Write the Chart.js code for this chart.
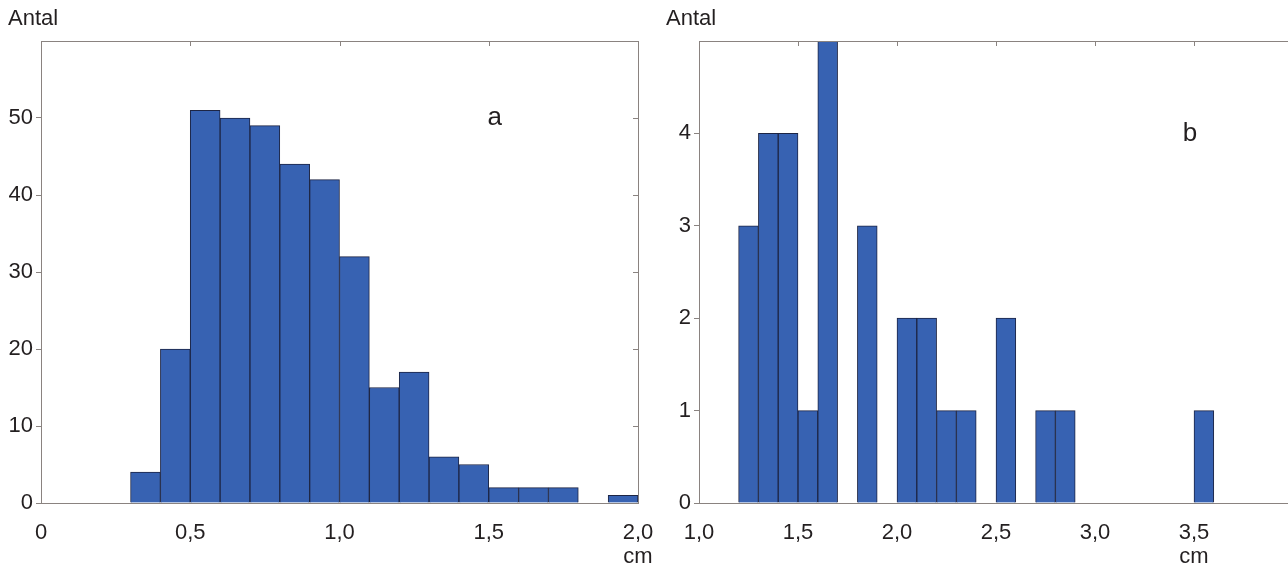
<!DOCTYPE html>
<html lang="sv">
<head>
    <meta charset="UTF-8">
    <title>Antal - histogram a och b</title>
    <script src="https://cdn.jsdelivr.net/npm/chart.js"></script>
    <style>
        html, body { margin: 0; padding: 0; background: #fff; overflow: hidden; }
        #wrap { position: relative; width: 1288px; height: 563px; overflow: hidden; }
        .box { position: absolute; top: 0; height: 563px; }
        #boxA { left: 0; width: 655px; }
        #boxB { left: 655px; width: 645px; }
    </style>
</head>
<body>
<div id="wrap">
    <div class="box" id="boxA"><canvas id="chartA"></canvas></div>
    <div class="box" id="boxB"><canvas id="chartB"></canvas></div>
</div>

<script>
    // panel a: bins of 0,1 cm, start value of each bin
    const binsA = [0.3, 0.4, 0.5, 0.6, 0.7, 0.8, 0.9, 1.0, 1.1, 1.2, 1.3, 1.4, 1.5, 1.6, 1.7, 1.8, 1.9];
    const countsA = [4, 20, 51, 50, 49, 44, 42, 32, 15, 17, 6, 5, 2, 2, 2, 0, 1];
    const xTicksA = [0, 0.5, 1.0, 1.5, 2.0];
    const xLabelsA = ['0', '0,5', '1,0', '1,5', ['2,0', 'cm']];
    const yTicksA = [0, 10, 20, 30, 40, 50];

    // panel b
    const binsB = [1.2, 1.3, 1.4, 1.5, 1.6, 1.7, 1.8, 1.9, 2.0, 2.1, 2.2, 2.3, 2.4, 2.5, 2.6, 2.7, 2.8, 3.5];
    const countsB = [3, 4, 4, 1, 5, 0, 3, 0, 2, 2, 1, 1, 0, 2, 0, 1, 1, 1];
    const xTicksB = [1.0, 1.5, 2.0, 2.5, 3.0, 3.5];
    const xLabelsB = ['1,0', '1,5', '2,0', '2,5', '3,0', ['3,5', 'cm']];
    const yTicksB = [0, 1, 2, 3, 4];

    const FONT = '"Liberation Sans", Arial, Helvetica, sans-serif';
    const TEXT = '#231f20';
    const FRAME = '#8a8380';

    // frame, inward ticks top/right, "Antal" and panel letter
    const framePlugin = {
        id: 'frame',
        afterDraw(chart, args, opts) {
            const ctx = chart.ctx;
            const a = chart.chartArea;
            const xs = chart.scales.x, ys = chart.scales.y;
            ctx.save();
            ctx.strokeStyle = FRAME;
            ctx.lineWidth = 1;
            ctx.strokeRect(Math.round(a.left) + 0.5, Math.round(a.top) + 0.5,
                Math.round(a.right - a.left), Math.round(a.bottom - a.top));
            ctx.beginPath();
            opts.topTicks.forEach(v => {
                const px = Math.round(xs.getPixelForValue(v)) + 0.5;
                ctx.moveTo(px, a.top);
                ctx.lineTo(px, a.top + 5);
            });
            opts.rightTicks.forEach(v => {
                const py = Math.round(ys.getPixelForValue(v)) + 0.5;
                ctx.moveTo(a.right, py);
                ctx.lineTo(a.right - 5, py);
            });
            ctx.stroke();

            ctx.fillStyle = TEXT;
            ctx.font = '22px ' + FONT;
            ctx.textAlign = 'left';
            ctx.textBaseline = 'middle';
            ctx.fillText('Antal', a.left - 33, 19);

            ctx.font = '26px ' + FONT;
            ctx.textAlign = 'center';
            ctx.fillText(opts.letter, xs.getPixelForValue(opts.letterAt[0]), ys.getPixelForValue(opts.letterAt[1]));
            ctx.restore();
        }
    };

    function makeData(bins, counts) {
        const pts = [];
        bins.forEach((b, i) => {
            if (counts[i] > 0) pts.push({ x: b + 0.05, y: counts[i] });
        });
        return pts;
    }

    function renderChart(id, cfg) {
        const ctx = document.getElementById(id).getContext('2d');
        return new Chart(ctx, {
            type: 'bar',
            data: {
                datasets: [{
                    data: makeData(cfg.bins, cfg.counts),
                    backgroundColor: '#3762b2',
                    borderColor: '#1d2544',
                    borderWidth: 1,
                    borderSkipped: 'start',
                    barPercentage: 1.0,
                    categoryPercentage: 1.0
                }]
            },
            plugins: [framePlugin],
            options: {
                responsive: true,
                maintainAspectRatio: false,
                animation: false,
                events: [],
                layout: { padding: { top: 41, right: cfg.padRight, left: 0, bottom: 0 } },
                plugins: {
                    legend: { display: false },
                    tooltip: { enabled: false },
                    frame: {
                        letter: cfg.letter,
                        letterAt: cfg.letterAt,
                        topTicks: cfg.xTicks.slice(1),
                        rightTicks: cfg.yTicks.slice(1)
                    }
                },
                scales: {
                    x: {
                        type: 'linear',
                        min: cfg.xMin,
                        max: cfg.xMax,
                        offset: false,
                        grid: { display: false },
                        border: { display: false },
                        afterBuildTicks: s => { s.ticks = cfg.xTicks.map(v => ({ value: v })); },
                        afterFit: s => { s.height = 60; s.paddingLeft = 0; s.paddingRight = 0; },
                        ticks: {
                            maxRotation: 0,
                            autoSkip: false,
                            padding: 10,
                            color: TEXT,
                            font: { family: FONT, size: 22, lineHeight: 1.08 },
                            callback: v => {
                                const i = cfg.xTicks.findIndex(t => Math.abs(t - v) < 1e-6);
                                return i >= 0 ? cfg.xLabels[i] : '';
                            }
                        }
                    },
                    y: {
                        min: 0,
                        max: cfg.yMax,
                        grid: { drawOnChartArea: false, drawTicks: true, tickLength: 5, color: FRAME },
                        border: { display: false },
                        afterBuildTicks: s => { s.ticks = cfg.yTicks.map(v => ({ value: v })); },
                        afterFit: s => { s.width = cfg.yWidth; s.paddingTop = 0; s.paddingBottom = 0; },
                        ticks: {
                            padding: 3,
                            color: TEXT,
                            font: { family: FONT, size: 22 }
                        }
                    }
                }
            }
        });
    }

    renderChart('chartA', {
        bins: binsA, counts: countsA,
        xTicks: xTicksA, xLabels: xLabelsA, yTicks: yTicksA,
        xMin: 0, xMax: 2.0, yMax: 60,
        yWidth: 41, padRight: 17,
        letter: 'a', letterAt: [1.52, 50]
    });

    renderChart('chartB', {
        bins: binsB, counts: countsB,
        xTicks: xTicksB, xLabels: xLabelsB, yTicks: yTicksB,
        xMin: 1.0, xMax: 4.0, yMax: 5,
        yWidth: 44, padRight: 7,
        letter: 'b', letterAt: [3.48, 4]
    });
</script>
</body>
</html>
